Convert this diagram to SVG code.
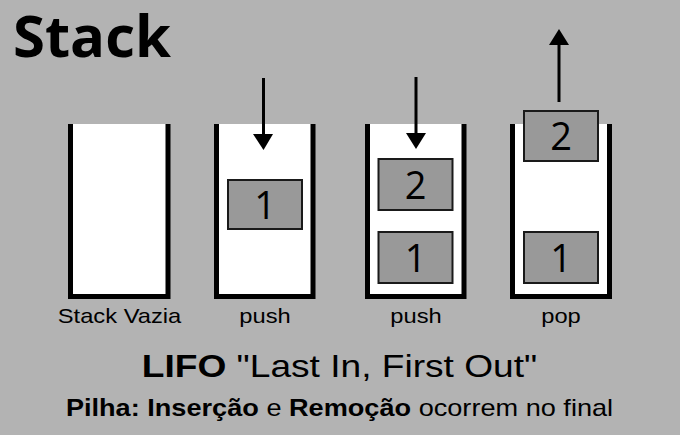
<svg xmlns="http://www.w3.org/2000/svg" width="680" height="435" viewBox="0 0 680 435">
<style>
.bg{fill:#b3b3b3}
.well{fill:#ffffff}
.wall{fill:none;stroke:#000;stroke-width:5;stroke-linejoin:miter}
.box{fill:#999999;stroke:#1a1a1a;stroke-width:2}
.num{font-family:"Open Sans","Noto Sans",sans-serif;font-size:38px;fill:#000;text-anchor:middle}
.lbl{font-family:"Liberation Sans",Arial,sans-serif;font-size:21px;fill:#000;text-anchor:middle}
.shaft{stroke:#000;stroke-width:3;fill:none}
.head{fill:#000}
</style>
<rect class="bg" x="0" y="0" width="680" height="435"/>
<text x="13" y="57" font-family="'Open Sans','Noto Sans',sans-serif" font-weight="bold" font-size="58" fill="#000">Stack</text>

<g id="stack-empty">
<rect class="well" x="70.5" y="124" width="97.5" height="172.5"/>
<path class="wall" d="M70.5,124 V296.5 H168 V124"/>
<text class="lbl" transform="translate(119.5,323) scale(1.13,1)" x="0" y="0">Stack Vazia</text>
</g>

<g id="stack-push1">
<rect class="well" x="216.5" y="124" width="96.5" height="172.5"/>
<path class="wall" d="M216.5,124 V296.5 H313 V124"/>
<rect class="box" x="228" y="180" width="74" height="49"/>
<text class="num" x="265" y="219">1</text>
<text class="lbl" transform="translate(265,323) scale(1.13,1)" x="0" y="0">push</text>
</g>

<g id="stack-push2">
<rect class="well" x="367.5" y="124" width="96.5" height="172.5"/>
<path class="wall" d="M367.5,124 V296.5 H464 V124"/>
<rect class="box" x="378.5" y="232" width="74" height="51"/>
<text class="num" x="415.5" y="272">1</text>
<rect class="box" x="378.5" y="159" width="74" height="51"/>
<text class="num" x="415.5" y="199">2</text>
<text class="lbl" transform="translate(416,323) scale(1.13,1)" x="0" y="0">push</text>
</g>

<g id="stack-pop">
<rect class="well" x="512.5" y="124" width="97" height="172.5"/>
<path class="wall" d="M512.5,124 V296.5 H609.5 V124"/>
<rect class="box" x="524" y="232" width="74" height="51"/>
<text class="num" x="561" y="272">1</text>
<rect class="box" x="524" y="111" width="74" height="50"/>
<text class="num" x="561" y="150">2</text>
<text class="lbl" transform="translate(561,323) scale(1.13,1)" x="0" y="0">pop</text>
</g>

<g id="connectors">
<line class="shaft" x1="263.5" y1="78" x2="263.5" y2="136"/>
<polygon class="head" points="253,134 273,134 263.5,150"/>
<line class="shaft" x1="416" y1="77" x2="416" y2="135"/>
<polygon class="head" points="406,133 426,133 416,149"/>
<line class="shaft" x1="559" y1="102" x2="559" y2="43"/>
<polygon class="head" points="549,45 569,45 559,29"/>
</g>

<text transform="translate(339.5,377) scale(1.16,1)" x="0" y="0" text-anchor="middle" font-family="'Liberation Sans',Arial,sans-serif" font-size="32" fill="#000"><tspan font-weight="bold">LIFO</tspan> "Last In, First Out"</text>
<text transform="translate(339.5,416) scale(1.18,1)" x="0" y="0" text-anchor="middle" font-family="'Liberation Sans',Arial,sans-serif" font-size="23" fill="#000"><tspan font-weight="bold">Pilha: Inserção</tspan> e <tspan font-weight="bold">Remoção</tspan> ocorrem no final</text>
</svg>
